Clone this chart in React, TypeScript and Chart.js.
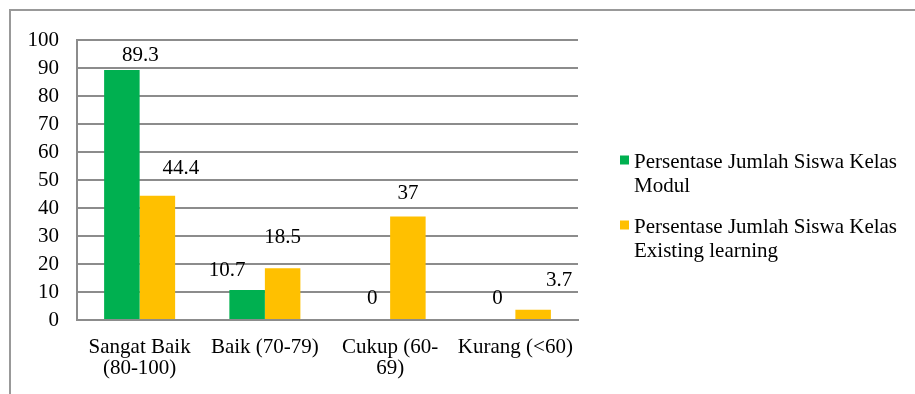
import React, { useEffect, useRef } from "react";
import { Chart, registerables } from "chart.js";

Chart.register(...registerables);

const categories: (string | string[])[] = [
  ["Sangat Baik", "(80-100)"],
  "Baik (70-79)",
  ["Cukup (60-", "69)"],
  "Kurang (<60)",
];
const seriesNames = [
  "Persentase Jumlah Siswa Kelas Modul",
  "Persentase Jumlah Siswa Kelas Existing learning",
];
const modulValues = [89.3, 10.7, 0, 0];
const existingValues = [44.4, 18.5, 37, 3.7];
const yTicksMin = 0;
const yTicksMax = 100;
const yTicksStep = 10;

// label nudges (pixels, relative to top-centre of each bar)
const modulLabelNudge = [
  [18.6, -14.5],
  [-20, -20],
  [0, -22],
  [0, -22],
];
const existingLabelNudge = [
  [23.6, -27],
  [0, -31],
  [0, -22.5],
  [26, -29],
];

const FONT = "'Liberation Serif', 'Times New Roman', serif";
const GREEN = "#00B050";
const YELLOW = "#FFC000";
const GRID = "#8c8c8c";

export default function App() {
  const ref = useRef<HTMLCanvasElement | null>(null);

  useEffect(() => {
    if (!ref.current) return;

    const framePlugin = {
      id: "frame",
      beforeDraw(chart: any) {
        const ctx = chart.ctx;
        ctx.save();
        ctx.strokeStyle = "#999999";
        ctx.lineWidth = 2;
        ctx.beginPath();
        ctx.moveTo(10, 394);
        ctx.lineTo(10, 10);
        ctx.lineTo(915, 10);
        ctx.stroke();
        ctx.restore();
      },
    };

    const labelPlugin = {
      id: "valueLabels",
      afterDatasetsDraw(chart: any) {
        const ctx = chart.ctx;
        const nudges = [modulLabelNudge, existingLabelNudge];
        ctx.save();
        ctx.font = `21px ${FONT}`;
        ctx.fillStyle = "#000";
        ctx.textAlign = "center";
        ctx.textBaseline = "middle";
        chart.data.datasets.forEach((ds: any, di: number) => {
          const meta = chart.getDatasetMeta(di);
          meta.data.forEach((bar: any, i: number) => {
            const [dx, dy] = nudges[di][i];
            ctx.fillText(String(ds.data[i]), bar.x + dx, bar.y + dy);
          });
        });
        ctx.restore();
      },
    };

    const legendPlugin = {
      id: "wrapLegend",
      afterDraw(chart: any) {
        const ctx = chart.ctx;
        ctx.save();
        ctx.font = `21px ${FONT}`;
        ctx.fillStyle = "#000";
        ctx.textAlign = "left";
        ctx.textBaseline = "alphabetic";
        const x0 = 620;
        const textX = 634;
        const itemTops = [168, 233];
        const lineH = 23.5;
        const maxW = 275;
        chart.data.datasets.forEach((ds: any, di: number) => {
          const words = String(ds.label).split(" ");
          const lines: string[] = [];
          let cur = "";
          words.forEach((w) => {
            const t = cur ? cur + " " + w : w;
            if (ctx.measureText(t).width > maxW && cur) {
              lines.push(cur);
              cur = w;
            } else cur = t;
          });
          if (cur) lines.push(cur);
          const base = itemTops[di];
          ctx.fillStyle = ds.backgroundColor;
          ctx.fillRect(x0, base - 12.5, 9, 9);
          ctx.fillStyle = "#000";
          lines.forEach((ln, li) => ctx.fillText(ln, textX, base + li * lineH));
        });
        ctx.restore();
      },
    };

    const chart = new Chart(ref.current, {
      type: "bar",
      data: {
        labels: categories,
        datasets: [
          {
            label: seriesNames[0],
            data: modulValues,
            backgroundColor: GREEN,
            borderWidth: 0,
          },
          {
            label: seriesNames[1],
            data: existingValues,
            backgroundColor: YELLOW,
            borderWidth: 0,
          },
        ],
      },
      options: {
        responsive: false,
        animation: false,
        devicePixelRatio: 1,
        layout: { padding: { left: 0, right: 337, top: 40, bottom: 0 } },
        datasets: {
          bar: { categoryPercentage: 0.567, barPercentage: 1 },
        },
        plugins: {
          legend: { display: false },
          tooltip: { enabled: false },
        },
        scales: {
          x: {
            grid: { display: false },
            border: { display: true, color: GRID, width: 2 },
            ticks: {
              color: "#000",
              font: { family: FONT, size: 21, lineHeight: 1 },
              padding: 9,
              maxRotation: 0,
              autoSkip: false,
            },
            afterFit(s: any) {
              s.height = 74;
            },
          },
          y: {
            min: yTicksMin,
            max: yTicksMax,
            ticks: {
              stepSize: yTicksStep,
              color: "#000",
              font: { family: FONT, size: 21, lineHeight: 1 },
              padding: 18,
            },
            grid: { color: GRID, lineWidth: 2, drawTicks: false },
            border: { display: true, color: GRID, width: 2 },
            afterFit(s: any) {
              s.width = 77;
            },
          },
        },
      },
      plugins: [framePlugin, labelPlugin, legendPlugin],
    });
    return () => chart.destroy();
  }, []);

  return (
    <div style={{ position: "fixed", left: 0, top: 0, width: 915, height: 394, background: "#fff" }}>
      <canvas ref={ref} width={915} height={394} style={{ display: "block", width: 915, height: 394 }} />
    </div>
  );
}
